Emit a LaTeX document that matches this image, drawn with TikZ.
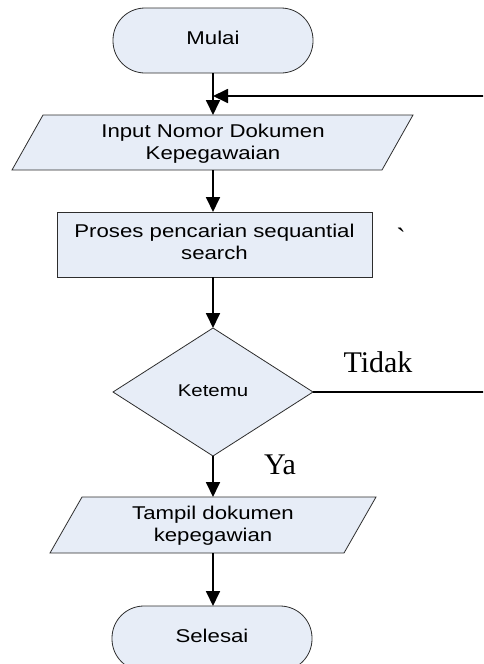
\documentclass[tikz,border=0pt]{standalone}
\usepackage{fontspec}
\usepackage{graphicx}
\setmainfont{Liberation Sans}
\newfontfamily\serifface{Liberation Serif}
\usetikzlibrary{arrows.meta,shapes.geometric,calc}
\definecolor{boxfill}{RGB}{231,237,247}
\definecolor{boxline}{RGB}{45,45,45}
% two-line label, stretched a little sideways
\newcommand{\flowtext}[1]{\scalebox{1.2}[1]{\begin{tabular}{@{}c@{}}#1\end{tabular}}}
\begin{document}
\begin{tikzpicture}[x=1pt,y=-1pt,
  shapebox/.style={draw=boxline,fill=boxfill,line width=0.8pt,inner sep=0pt,outer sep=0pt,
    font=\fontsize{18.5}{22}\selectfont},
  terminal/.style={shapebox,rectangle,rounded corners=32pt,minimum width=200pt,minimum height=65pt},
  procbox/.style={shapebox,rectangle,minimum width=315pt,minimum height=65pt},
  decision/.style={shapebox,diamond,aspect=1.5625,minimum width=200pt,minimum height=128pt,
    font=\fontsize{17}{20}\selectfont},
  iobox/.style={inner sep=0pt,outer sep=0pt,font=\fontsize{18.5}{22}\selectfont},
  ioshape/.style={draw=boxline,fill=boxfill,line width=0.8pt},
  flow/.style={line width=1.8pt,-{Triangle[length=15pt,width=14pt]}},
  plainline/.style={line width=1.8pt},
  answer/.style={font=\serifface\fontsize{30}{34}\selectfont,inner sep=0pt}]
\useasboundingbox (0,0) rectangle (483,664);
\clip (0,0) rectangle (483,664);

% start
\node[terminal] (mulai) at (213,40.5) {\flowtext{Mulai}};

% input parallelogram
\node[iobox,minimum width=401pt,minimum height=55pt] (input) at (212.5,142.5) {};
\draw[ioshape] ($(input.north west)+(31,0)$) -- (input.north east)
  -- ($(input.south east)+(-31,0)$) -- (input.south west) -- cycle;
\node[iobox] (inputtext) at (213,144) {\flowtext{Input Nomor Dokumen\\Kepegawaian}};

% search process
\node[procbox] (proses) at (214.5,244.5) {\flowtext{Proses pencarian sequantial\\search}};
\node[answer,font=\serifface\fontsize{28}{30}\selectfont] (tick) at (401,238) {\char"60};

% decision
\node[decision] (ketemu) at (213,392) {\flowtext{Ketemu}};

% output parallelogram
\node[iobox,minimum width=326pt,minimum height=56pt] (tampil) at (213,525) {};
\draw[ioshape] ($(tampil.north west)+(32,0)$) -- (tampil.north east)
  -- ($(tampil.south east)+(-32,0)$) -- (tampil.south west) -- cycle;
\node[iobox] (tampiltext) at (213,526) {\flowtext{Tampil dokumen\\kepegawian}};

% end
\node[terminal] (selesai) at (212,638.5) {\flowtext{Selesai}};

% loop back from "Tidak"
\coordinate (loopR) at (500,392);
\coordinate (loopT) at (500,96);
\coordinate (merge) at (213,96);

% connectors
\draw[flow] (mulai.south) -- (mulai.south |- input.north);
\draw[plainline] (ketemu.east) -- (loopR) -- (loopT);
\draw[flow] (loopT) -- (merge);
\draw[flow] (input.south -| proses.north) ++(-1.5,0) -- ($(proses.north)+(-1.5,0)$);
\draw[flow] ($(proses.south)+(-1.5,0)$) -- (ketemu.north);
\draw[flow] (ketemu.south) -- (ketemu.south |- tampil.north);
\draw[flow] (tampil.south) -- (tampil.south |- selesai.north);

% branch labels
\node[answer] (tidak) at (378,362) {Tidak};
\node[answer] (ya) at (280,465) {Ya};
\end{tikzpicture}
\end{document}
